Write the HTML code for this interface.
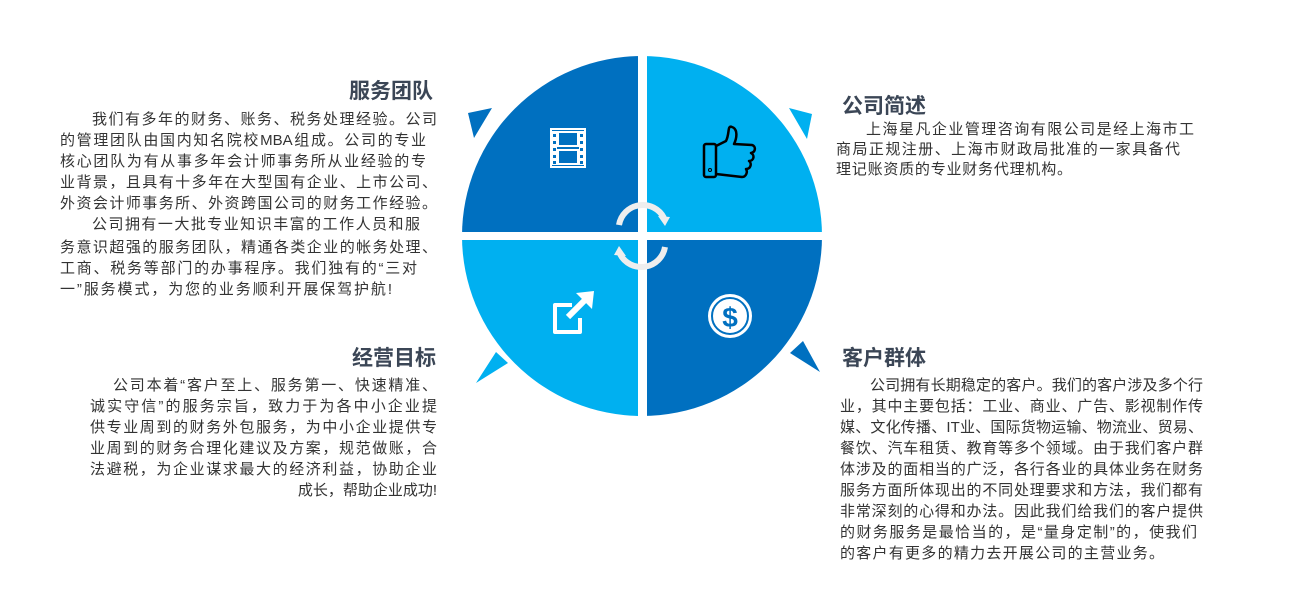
<!DOCTYPE html>
<html><head><meta charset="utf-8"><style>
body{margin:0;width:1307px;height:611px;background:#fff;position:relative;overflow:hidden;font-family:"Liberation Sans","Noto Sans CJK SC",sans-serif;color:#333}
.l{position:absolute;font-size:15px;white-space:nowrap;line-height:20px}
.j{text-align:justify;text-align-last:justify;white-space:normal}
.t{position:absolute;font-size:21px;font-weight:bold;color:#3b4656;white-space:nowrap}
.r{text-align:right}
</style></head><body>
<svg width="1307" height="611" style="position:absolute;left:0;top:0">
<defs><clipPath id="c"><circle cx="642" cy="236" r="180"/></clipPath></defs>
<g clip-path="url(#c)">
<rect x="460" y="50" width="178" height="182" fill="#0070c0"/>
<rect x="647" y="50" width="180" height="182" fill="#00b0f0"/>
<rect x="460" y="240" width="178" height="180" fill="#00b0f0"/>
<rect x="647" y="240" width="180" height="180" fill="#0070c0"/>
</g>
<polygon points="468,113 492,108 474,138" fill="#0070c0"/>
<polygon points="789,108 812,114 807,139" fill="#00b0f0"/>
<polygon points="496,352 508,363 476,383" fill="#00b0f0"/>
<polygon points="790,353 803,341 820,372" fill="#0070c0"/>
<path d="M619,225 A24,24 0 0 1 664,218" stroke="#eee" stroke-width="6" fill="none"/>
<polygon points="658,216 670,217 665,226" fill="#eee"/>
<path d="M665,247 A24,24 0 0 1 620,254" stroke="#eee" stroke-width="6" fill="none"/>
<polygon points="626,256 614,255 619,246" fill="#eee"/>
<rect x="551" y="129" width="34" height="38" fill="none" stroke="#fff" stroke-width="2"/>
<rect x="558" y="132" width="20" height="14" fill="none" stroke="#fff" stroke-width="2"/>
<rect x="558" y="150" width="20" height="14" fill="none" stroke="#fff" stroke-width="2"/>
<g fill="#fff"><rect x="552" y="131" width="5" height="34"/><rect x="579" y="131" width="5" height="34"/></g>
<g fill="#0070c0"><rect x="553" y="134" width="3" height="3"/><rect x="553" y="141" width="3" height="3"/><rect x="553" y="148" width="3" height="3"/><rect x="553" y="155" width="3" height="3"/><rect x="553" y="161" width="3" height="3"/><rect x="580" y="134" width="3" height="3"/><rect x="580" y="141" width="3" height="3"/><rect x="580" y="148" width="3" height="3"/><rect x="580" y="155" width="3" height="3"/><rect x="580" y="161" width="3" height="3"/></g>
<g fill="none" stroke="#000" stroke-width="2.5" stroke-linejoin="round">
<rect x="704" y="144" width="12" height="33" rx="2"/>
<path d="M716,146 L726,141 C730,133 727,125 732,127 C738,129 737,138 734,144 L752,145 C756,146 756,152 751,153 C755,155 754,161 749,161 C752,163 751,169 746,169 C748,172 746,177 742,177 L716,174"/>
</g>
<circle cx="710" cy="170" r="1.5" fill="none" stroke="#000"/>
<path d="M572,305 L555,305 L555,332 L580,332 L580,318" fill="none" stroke="#fff" stroke-width="4" stroke-linejoin="round"/>
<path d="M568,317 L585,300" stroke="#fff" stroke-width="6"/>
<polygon points="576,293 594,291 592,309" fill="#fff"/>
<circle cx="730" cy="316" r="22" fill="#fff"/>
<circle cx="730" cy="316" r="18" fill="none" stroke="#0070c0" stroke-width="2"/>
<text x="730" y="327" text-anchor="middle" font-size="28" font-weight="bold" fill="#0070c0" font-family="Liberation Sans">$</text>
</svg>

<div class="t" style="left:349px;top:75px">服务团队</div>
<div class="l j" style="left:92px;width:345px;top:110px">我们有多年的财务、账务、税务处理经验。公司</div>
<div class="l j" style="left:60px;width:366px;top:131px">的管理团队由国内知名院校MBA组成。公司的专业</div>
<div class="l j" style="left:60px;width:366px;top:152px">核心团队为有从事多年会计师事务所从业经验的专</div>
<div class="l j" style="left:60px;width:377px;top:173px">业背景，且具有十多年在大型国有企业、上市公司、</div>
<div class="l j" style="left:60px;width:377px;top:194px">外资会计师事务所、外资跨国公司的财务工作经验。</div>
<div class="l j" style="left:92px;width:328px;top:215px">公司拥有一大批专业知识丰富的工作人员和服</div>
<div class="l j" style="left:60px;width:377px;top:238px">务意识超强的服务团队，精通各类企业的帐务处理、</div>
<div class="l j" style="left:60px;width:357px;top:259px">工商、税务等部门的办事程序。我们独有的“三对</div>
<div class="l j" style="left:60px;width:332px;top:280px">一”服务模式，为您的业务顺利开展保驾护航!</div>

<div class="t" style="left:842px;top:90px">公司简述</div>
<div class="l j" style="left:866px;width:328px;top:120px">上海星凡企业管理咨询有限公司是经上海市工</div>
<div class="l j" style="left:836px;width:344px;top:140px">商局正规注册、上海市财政局批准的一家具备代</div>
<div class="l j" style="left:836px;width:236px;top:160px">理记账资质的专业财务代理机构。</div>

<div class="t" style="left:842px;top:342px">客户群体</div>
<div class="l j" style="left:870px;width:333px;top:376px">公司拥有长期稳定的客户。我们的客户涉及多个行</div>
<div class="l j" style="left:840px;width:363px;top:397px">业，其中主要包括：工业、商业、广告、影视制作传</div>
<div class="l j" style="left:840px;width:363px;top:418px">媒、文化传播、IT业、国际货物运输、物流业、贸易、</div>
<div class="l j" style="left:840px;width:363px;top:439px">餐饮、汽车租赁、教育等多个领域。由于我们客户群</div>
<div class="l j" style="left:840px;width:363px;top:460px">体涉及的面相当的广泛，各行各业的具体业务在财务</div>
<div class="l j" style="left:840px;width:363px;top:481px">服务方面所体现出的不同处理要求和方法，我们都有</div>
<div class="l j" style="left:840px;width:363px;top:502px">非常深刻的心得和办法。因此我们给我们的客户提供</div>
<div class="l j" style="left:840px;width:357px;top:523px">的财务服务是最恰当的，是“量身定制”的，使我们</div>
<div class="l j" style="left:840px;width:324px;top:544px">的客户有更多的精力去开展公司的主营业务。</div>

<div class="t" style="left:352px;top:342px">经营目标</div>
<div class="l j" style="left:113px;width:324px;top:376px">公司本着“客户至上、服务第一、快速精准、</div>
<div class="l j" style="left:90px;width:347px;top:397px">诚实守信”的服务宗旨，致力于为各中小企业提</div>
<div class="l j" style="left:90px;width:347px;top:418px">供专业周到的财务外包服务，为中小企业提供专</div>
<div class="l j" style="left:90px;width:347px;top:439px">业周到的财务合理化建议及方案，规范做账，合</div>
<div class="l j" style="left:90px;width:347px;top:460px">法避税，为企业谋求最大的经济利益，协助企业</div>
<div class="l r" style="right:870px;top:481px">成长，帮助企业成功!</div>
</body></html>
